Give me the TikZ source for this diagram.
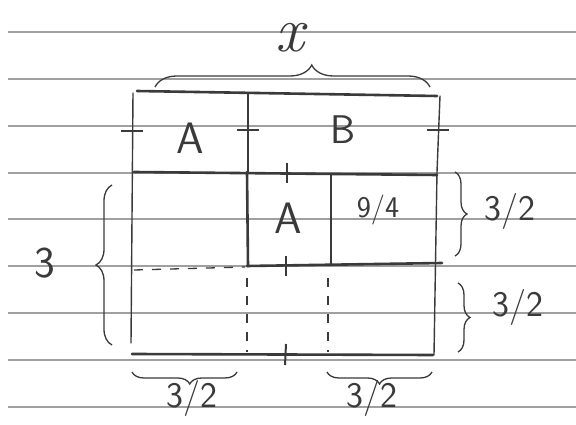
\documentclass[tikz,border=0pt]{standalone}
\usepackage{fontspec}
\usetikzlibrary{decorations.pathreplacing}
\definecolor{pencil}{HTML}{3A3A3A}
\definecolor{rule}{HTML}{A0A0A0}
\tikzset{
  ruled/.style={draw=rule, line width=1.2pt},
  thick pencil/.style={draw=pencil, line width=2.6pt, line cap=round},
  thin pencil/.style={draw=pencil, line width=1.4pt, line cap=round},
  dash pencil/.style={draw=pencil, line width=1.3pt, dash pattern=on 9pt off 9pt},
  tickmark/.style={draw=pencil, line width=2pt},
  brc/.style={draw=pencil, line width=1.3pt, decorate, decoration={brace, amplitude=#1}},
  brc/.default=14pt,
  lbl/.style={text=pencil, inner sep=0pt, font=\sffamily\fontsize{40}{40}\selectfont},
  frac/.style={text=pencil, inner sep=0pt, font=\sffamily\fontsize{36}{36}\selectfont}
}
\begin{document}
\begin{tikzpicture}[x=1pt, y=-1pt]
\useasboundingbox[fill=white] (0,0) rectangle (576,425);
% ruled paper lines
\foreach \yy in {32,79,126,173,219,266,313,360,407}
  \draw[ruled] (8,\yy) -- (576,\yy);
% outer frame
\draw[thick pencil] (137,91) -- (437,96);
\draw[thin pencil] (133,93) -- (131,343);
\draw[thin pencil] (440,96) -- (437,172) -- (434,355);
\draw[thick pencil] (248,93) -- (248,172);
\draw[thick pencil] (134,172) -- (437,175);
% inner squares
\draw[thick pencil] (247,172) -- (248,266);
\draw[thick pencil] (247,266) -- (442,263);
\draw[thick pencil] (331,175) -- (331,264);
% dashed lines
\draw[dash pencil] (134,270) -- (245,267);
\draw[dash pencil] (247,278) -- (247,352);
\draw[dash pencil] (328,278) -- (328,352);
% bottom line
\draw[thick pencil] (132,354) -- (433,355);
% tick marks
\draw[tickmark] (121,131) -- (143,131);
\draw[tickmark] (237,130) -- (259,130);
\draw[tickmark] (427,130) -- (449,130);
\draw[tickmark] (287,163) -- (287,183);
\draw[tickmark] (286,256) -- (286,276);
\draw[tickmark] (286,344) -- (285,365);
% braces
\draw[brc=22pt, decoration={aspect=0.57}] (155,87) -- (430,87);
\draw[brc=16pt] (112,345) -- (112,185);
\draw[brc=12pt] (455,172) -- (455,256);
\draw[brc=12pt] (458,283) -- (458,352);
\draw[brc=12pt, decoration={aspect=0.45}] (237,372) -- (132,372);
\draw[brc=12pt] (432,372) -- (327,372);
% labels
\node[lbl, font=\itshape\fontsize{64}{64}\selectfont] (lx) at (290,38) {x};
\node[lbl, font=\sffamily\fontsize{44}{44}\selectfont] (la1) at (190,138) {A};
\node[lbl] (lb) at (343,130) {B};
\node[lbl, font=\sffamily\fontsize{44}{44}\selectfont] (la2) at (288,218) {A};
\node[frac, font=\sffamily\fontsize{30}{30}\selectfont] (l94) at (378,210) {9/4};
\node[frac] (lr1) at (510,212) {3/2};
\node[frac] (lr2) at (518,307) {3/2};
\node[lbl, font=\sffamily\fontsize{44}{44}\selectfont] (l3) at (45,263) {3};
\node[frac] (lb1) at (192,398) {3/2};
\node[frac] (lb2) at (372,398) {3/2};
\end{tikzpicture}
\end{document}
